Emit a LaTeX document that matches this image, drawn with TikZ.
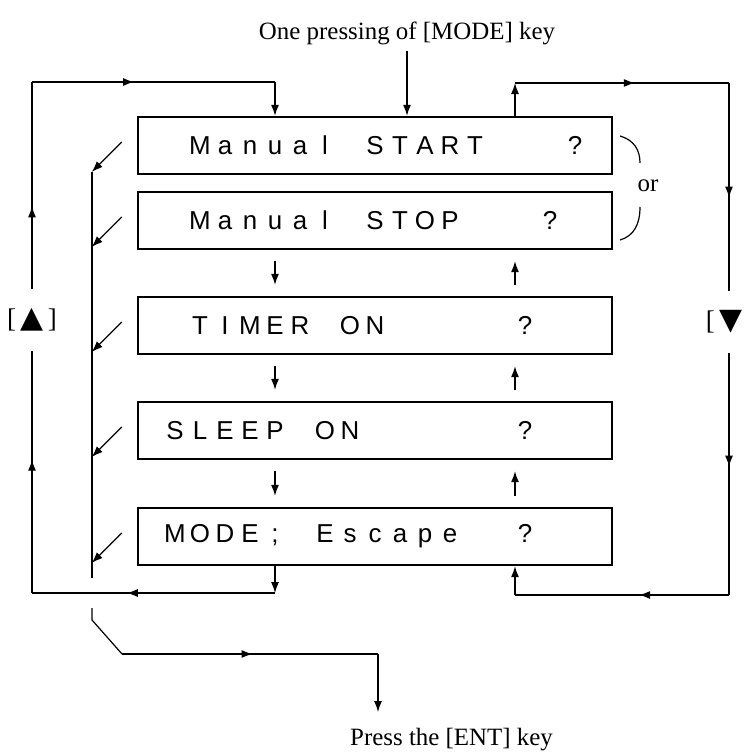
\documentclass[tikz,border=0pt]{standalone}
\usepackage{fontspec}
\setmainfont{Liberation Serif}
\newfontfamily\lcdfont{Liberation Sans}
\newfontfamily\symfont{DejaVu Sans}
\usetikzlibrary{arrows.meta,decorations.markings}
\ExplSyntaxOn
\NewDocumentCommand\lcd{m}{\tl_map_inline:nn{#1}{\makebox[25bp]{##1}}}
\ExplSyntaxOff
\tikzset{
  lcdbox/.style={draw, line width=2.4bp, minimum width=474bp, minimum height=57bp,
    inner sep=0pt, font=\lcdfont\fontsize{26}{30}\selectfont},
  line/.style={line width=1.2bp},
  caption/.style={font=\fontsize{25}{30}\selectfont, inner sep=0pt},
  keylabel/.style={font=\fontsize{27}{30}\selectfont, minimum height=61bp, inner sep=1bp},
  midarrow/.style={postaction={decorate},
    decoration={markings, mark=at position #1 with {\arrow{>}}}},
  >={Latex[length=11bp,width=8bp]}
}
\begin{document}
\begin{tikzpicture}[x=1bp,y=-1bp]
\useasboundingbox (0,0) rectangle (747,756);
% texts
\node[caption] (mode) at (407,33) {One pressing of [MODE] key};
\node[caption, anchor=west] (ent) at (350,740) {Press the [ENT] key};
\node[caption] (or) at (648,186) {or};
\node[keylabel] (up) at (32,320) {[\,{\symfont\fontsize{30}{30}\selectfont ▲}\,]};
\node[keylabel] (down) at (724,322) {[\,{\symfont\fontsize{30}{30}\selectfont ▼}};
% display boxes
\node[lcdbox] (b1) at (375,145.5) {\makebox[425bp][l]{\lcd{~Manual~START~~~?}}};
\node[lcdbox] (b2) at (375,220.5) {\makebox[425bp][l]{\lcd{~Manual~STOP~~~?}}};
\node[lcdbox] (b3) at (375,325.5) {\makebox[425bp][l]{\lcd{~TIMER~ON~~~~~?}}};
\node[lcdbox] (b4) at (375,430.5) {\makebox[425bp][l]{\lcd{SLEEP~ON~~~~~~?}}};
\node[lcdbox] (b5) at (375,536.5) {\makebox[425bp][l]{\lcd{MODE;~Escape~~?}}};
% columns and corners
\coordinate (cl) at (275,0);
\coordinate (cr) at (515,0);
\coordinate (tl) at (32,82);
\coordinate (bl) at (32,593);
\coordinate (tr) at (729,83);
\coordinate (br) at (729,595);
\draw[line,->,shorten <=6bp] (mode.south) -- (mode.south |- b1.north);
% between boxes
\foreach \a/\b in {2/3,3/4,4/5} {
  \draw[line,->,shorten <=11bp,shorten >=11bp] (b\a.south -| cl) -- (b\b.north -| cl);
  \draw[line,->,shorten <=11bp,shorten >=11bp] (b\b.north -| cr) -- (b\a.south -| cr);
}
% or
\draw[line] (620,136) .. controls (634,140) and (640,150) .. (640,163);
\draw[line] (640,207) .. controls (640,224) and (634,236) .. (620,240);
% [ENT] exits
\foreach \i in {1,...,5}
  \draw[line,->] ([shift={(-15,-3.5)}]b\i.west) -- ++(-30,30);
\coordinate (i1) at (92,172);
\coordinate (i2) at (92,578);
\coordinate (i3) at (92,608);
\coordinate (i4) at (92,620);
\coordinate (i5) at (122,654);
\coordinate (i6) at (378,654);
\coordinate (i7) at (378,712);
\draw[line] (i1) -- (i2);
\draw[line] (i3) -- (i4) -- (i5);
\draw[line,midarrow=0.51] (i5) -- (i6);
\draw[line,->] (i6) -- (i7);
% up key loop
\draw[line,->] (b5.south -| cl) -- (cl |- bl);
\draw[line,midarrow=0.61] (cl |- bl) -- (bl);
\draw[line,midarrow=0.55] (bl) -- (up.south);
\draw[line,midarrow=0.40] (up.north) -- (tl);
\draw[line,midarrow=0.42] (tl) -- (tl -| cl);
\draw[line,->] (tl -| cl) -- (b1.north -| cl);
% down key loop
\draw[line,->] (b1.north -| cr) -- (cr |- tr);
\draw[line,midarrow=0.56] (cr |- tr) -- (tr);
\draw[line,midarrow=0.55] (tr) -- (tr |- down.north);
\draw[line,midarrow=0.47] (tr |- down.south) -- (br);
\draw[line,midarrow=0.42] (br) -- (cr |- br);
\draw[line,->] (cr |- br) -- (b5.south -| cr);
\end{tikzpicture}
\end{document}
